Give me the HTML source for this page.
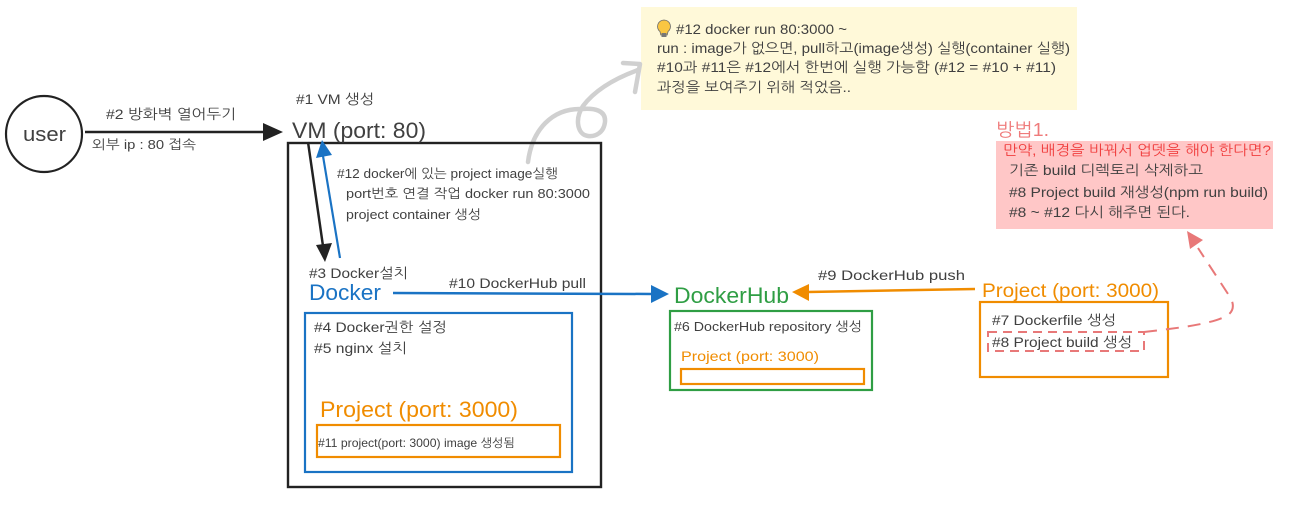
<!DOCTYPE html>
<html><head><meta charset="utf-8"><style>
html,body{margin:0;padding:0;background:#fff;width:1307px;height:505px;overflow:hidden}
svg{display:block}
text{font-family:"Liberation Sans","NanumGothic","Noto Sans CJK KR",sans-serif;fill:#404040;font-size:14px;white-space:pre}
</style></head><body>
<svg width="1307" height="505" viewBox="0 0 1307 505" xmlns="http://www.w3.org/2000/svg">
<rect x="641" y="7" width="436" height="103" fill="#fff9d9"/>
<rect x="996" y="141" width="277" height="88" fill="#ffc7c7"/>
<!-- sketch arrow -->
<g fill="none" stroke="#d0d0d0" stroke-width="4.500" stroke-linecap="round" stroke-linejoin="round">
<path d="M528 162C532 130 552 108 582 109C594 108 606 110 605 122C604 132 596 137 588 136C578 135 574 120 583 106C595 90 616 78 638 70"/>
<path d="M623 63L640 64L635 92"/>
</g>
<!-- boxes -->
<g fill="none">
<rect x="288" y="143" width="313" height="344" stroke="#222" stroke-width="2.400"/>
<rect x="305" y="313" width="267" height="159" stroke="#1a73c4" stroke-width="2.200"/>
<rect x="317" y="425" width="243" height="32" stroke="#f08c00" stroke-width="2.200"/>
<rect x="670" y="311" width="202" height="79" stroke="#2f9e44" stroke-width="2.200"/>
<rect x="681" y="369" width="183" height="15" stroke="#f08c00" stroke-width="2.200"/>
<rect x="980" y="302" width="188" height="75" stroke="#f08c00" stroke-width="2.200"/>
<rect x="988" y="332" width="156" height="19" stroke="#e87878" stroke-width="2" stroke-dasharray="9 6"/>
<circle cx="44" cy="134" r="38" stroke="#222" stroke-width="2.200"/>
</g>
<!-- connectors -->
<line x1="85" y1="132" x2="264" y2="132" stroke="#222" stroke-width="2.500"/>
<polygon points="263,123 283,132 263,141" fill="#222"/>
<line x1="308" y1="142" x2="323" y2="246" stroke="#222" stroke-width="2.500"/>
<polygon points="316,245 332,243 325,262" fill="#222"/>
<line x1="340" y1="258" x2="323" y2="156" stroke="#1a73c4" stroke-width="2.200"/>
<polygon points="316,158 332,155 322,140" fill="#1a73c4"/>
<line x1="393" y1="293" x2="652" y2="294" stroke="#1a73c4" stroke-width="2.500"/>
<polygon points="651,285 669,294 651,303" fill="#1a73c4"/>
<line x1="975" y1="289" x2="808" y2="292" stroke="#f08c00" stroke-width="2.500"/>
<polygon points="809,284 792,292 809,301" fill="#f08c00"/>
<path d="M1144 332C1180 328 1208 324 1222 318C1234 314 1235 305 1230 297L1198 248" fill="none" stroke="#e87878" stroke-width="2" stroke-dasharray="13 9"/>
<polygon points="1187,231 1203,240 1190,249" fill="#e87878"/>
<!-- bulb -->
<path d="M664 20a6.500 6.500 0 0 1 4 11.600l-.8 3.400h-6.400l-.8-3.400A6.500 6.500 0 0 1 664 20z" fill="#f9c642" stroke="#6b6b6b" stroke-width=".8"/>
<rect x="661.500" y="33" width="5" height="4" fill="#777"/>
<!-- labels -->
<text x="23" y="141" textLength="43" lengthAdjust="spacingAndGlyphs" style="font-size:20px">user</text>
<text x="106" y="119" textLength="130" lengthAdjust="spacingAndGlyphs">#2 방화벽 열어두기</text>
<text x="92" y="149" textLength="104" lengthAdjust="spacingAndGlyphs" style="font-size:13px">외부 ip : 80 접속</text>
<text x="296" y="104" textLength="78" lengthAdjust="spacingAndGlyphs">#1 VM 생성</text>
<text x="292" y="138" textLength="134" lengthAdjust="spacingAndGlyphs" style="font-size:22px">VM (port: 80)</text>
<text x="337" y="178" textLength="221" lengthAdjust="spacingAndGlyphs" style="font-size:13px">#12 docker에 있는 project image실행</text>
<text x="346" y="198" textLength="244" lengthAdjust="spacingAndGlyphs" style="font-size:13px">port번호 연결 작업 docker run 80:3000</text>
<text x="346" y="219" textLength="135" lengthAdjust="spacingAndGlyphs" style="font-size:13px">project container 생성</text>
<text x="309" y="278" textLength="99" lengthAdjust="spacingAndGlyphs">#3 Docker설치</text>
<text x="309" y="300" textLength="72" lengthAdjust="spacingAndGlyphs" style="font-size:22px;fill:#1a73c4">Docker</text>
<text x="449" y="288" textLength="137" lengthAdjust="spacingAndGlyphs">#10 DockerHub pull</text>
<text x="314" y="332" textLength="133" lengthAdjust="spacingAndGlyphs">#4 Docker권한 설정</text>
<text x="314" y="353" textLength="93" lengthAdjust="spacingAndGlyphs">#5 nginx 설치</text>
<text x="320" y="417" textLength="198" lengthAdjust="spacingAndGlyphs" style="font-size:22px;fill:#f08c00">Project (port: 3000)</text>
<text x="318" y="447" textLength="197" lengthAdjust="spacingAndGlyphs" style="font-size:12px">#11 project(port: 3000) image 생성됨</text>
<text x="674" y="303" textLength="115" lengthAdjust="spacingAndGlyphs" style="font-size:22px;fill:#2f9e44">DockerHub</text>
<text x="674" y="331" textLength="188" lengthAdjust="spacingAndGlyphs" style="font-size:13px">#6 DockerHub repository 생성</text>
<text x="681" y="361" textLength="138" lengthAdjust="spacingAndGlyphs" style="fill:#f08c00">Project (port: 3000)</text>
<text x="818" y="280" textLength="147" lengthAdjust="spacingAndGlyphs">#9 DockerHub push</text>
<text x="982" y="297" textLength="177" lengthAdjust="spacingAndGlyphs" style="font-size:19px;fill:#f08c00">Project (port: 3000)</text>
<text x="992" y="325" textLength="124" lengthAdjust="spacingAndGlyphs">#7 Dockerfile 생성</text>
<text x="992" y="347" textLength="140" lengthAdjust="spacingAndGlyphs">#8 Project build 생성</text>
<text x="676" y="34" textLength="171" lengthAdjust="spacingAndGlyphs">#12 docker run 80:3000 ~</text>
<text x="657" y="53" textLength="413" lengthAdjust="spacingAndGlyphs">run : image가 없으면, pull하고(image생성) 실행(container 실행)</text>
<text x="657" y="72" textLength="399" lengthAdjust="spacingAndGlyphs">#10과 #11은 #12에서 한번에 실행 가능함 (#12 = #10 + #11)</text>
<text x="657" y="92" textLength="194" lengthAdjust="spacingAndGlyphs">과정을 보여주기 위해 적었음..</text>
<text x="996" y="136" textLength="53" lengthAdjust="spacingAndGlyphs" style="font-size:18px;fill:#ef7b7b">방법1.</text>
<text x="1003" y="155" textLength="268" lengthAdjust="spacingAndGlyphs" style="fill:#f03e3e">만약, 배경을 바꿔서 업뎃을 해야 한다면?</text>
<text x="1009" y="175" textLength="194" lengthAdjust="spacingAndGlyphs">기존 build 디렉토리 삭제하고</text>
<text x="1009" y="197" textLength="259" lengthAdjust="spacingAndGlyphs">#8 Project build 재생성(npm run build)</text>
<text x="1009" y="217" textLength="181" lengthAdjust="spacingAndGlyphs">#8 ~ #12 다시 해주면 된다.</text>
</svg>
</body></html>
